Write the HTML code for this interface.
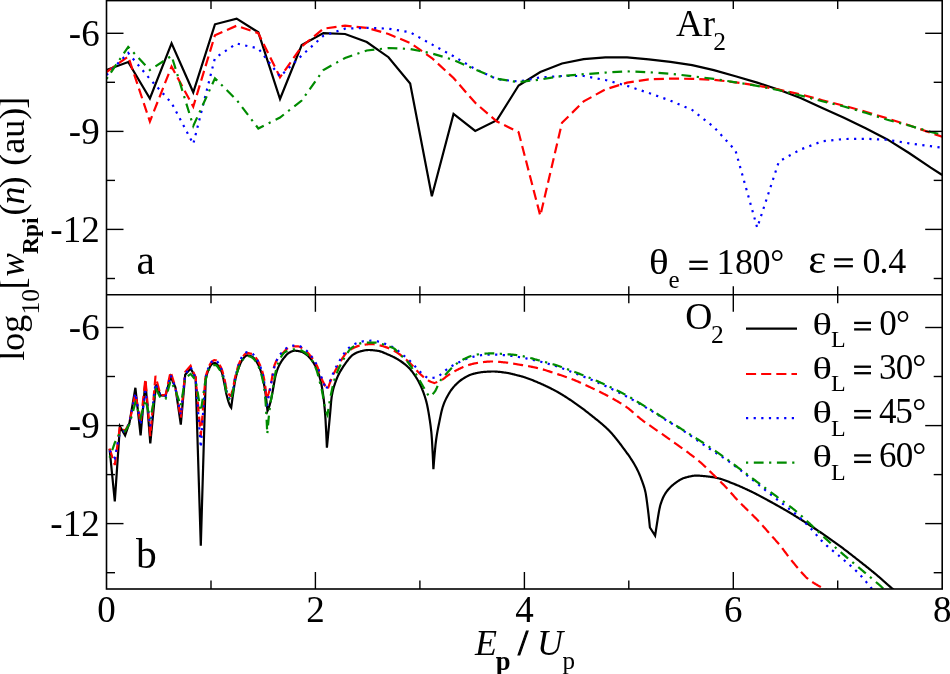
<!DOCTYPE html>
<html><head><meta charset="utf-8"><style>
html,body{margin:0;padding:0;background:#fff;}
svg{display:block;will-change:transform;}
</style></head><body>
<svg width="950" height="674" viewBox="0 0 950 674">
<rect width="950" height="674" fill="#fff"/>
<defs><clipPath id="ca"><rect x="106.5" y="0.6" width="835.7" height="294.2"/></clipPath><clipPath id="cb"><rect x="106.5" y="294.8" width="835.7" height="294.2"/></clipPath></defs><g clip-path="url(#ca)" fill="none" stroke-linejoin="miter"><polyline points="106.50,70.00 128.19,62.00 149.88,98.50 171.57,43.40 193.26,92.30 214.95,24.30 236.64,18.60 258.33,32.30 280.02,99.00 301.71,45.00 323.40,33.10 345.09,34.00 366.78,42.00 388.47,57.20 410.16,83.50 431.85,196.30 453.54,114.00 475.23,130.90 496.92,120.20 518.61,85.50 540.30,72.10 561.99,63.50 583.68,59.20 605.37,57.40 627.06,57.30 648.75,59.30 670.44,61.90 692.13,65.10 713.82,70.10 735.51,76.30 757.20,82.60 778.89,89.70 800.58,98.00 822.27,108.00 843.96,117.80 865.65,128.30 887.34,139.40 909.03,153.00 930.72,167.70 942.20,175.00" stroke="#000" stroke-width="2.2"/><polyline points="106.50,72.00 128.19,56.50 149.88,121.50 171.57,66.50 193.26,106.70 214.95,35.20 236.64,25.70 258.33,33.20 280.02,77.30 301.71,46.50 323.40,28.70 345.09,25.70 366.78,27.80 388.47,34.00 410.16,43.00 431.85,58.00 453.54,78.00 475.23,102.80 496.92,121.50 518.61,132.20 540.30,215.80 561.99,122.80 583.68,101.40 605.37,89.40 627.06,82.60 648.75,79.30 670.44,78.60 692.13,78.80 713.82,79.80 735.51,82.30 757.20,85.60 778.89,89.60 800.58,94.30 822.27,100.20 843.96,105.70 865.65,111.70 887.34,118.40 909.03,125.20 930.72,132.80 942.20,136.80" stroke="#ff0000" stroke-width="2.2" stroke-dasharray="10.1 5.05"/><polyline points="106.50,75.00 128.19,53.00 149.88,79.00 171.57,103.00 193.26,144.00 214.95,58.00 236.64,43.50 258.33,48.50 280.02,76.50 301.71,55.50 323.40,35.80 345.09,28.70 366.78,27.80 388.47,28.70 410.16,32.30 431.85,44.40 453.54,56.30 475.23,69.00 496.92,79.20 518.61,81.50 540.30,77.40 561.99,76.00 583.68,76.00 605.37,80.00 627.06,85.80 648.75,93.00 670.44,100.60 692.13,110.00 713.82,127.00 735.51,150.50 757.20,227.70 778.89,161.50 800.58,149.50 822.27,141.20 843.96,139.00 865.65,138.80 887.34,139.80 909.03,143.30 930.72,146.20 942.20,147.70" stroke="#0000ff" stroke-width="2.2" stroke-dasharray="2.2 5.43"/><polyline points="106.50,79.00 128.19,46.90 149.88,70.00 171.57,55.80 193.26,126.00 214.95,78.30 236.64,100.00 258.33,128.50 280.02,117.50 301.71,100.50 323.40,70.00 345.09,58.00 366.78,50.50 388.47,48.00 410.16,49.00 431.85,53.40 453.54,60.00 475.23,69.40 496.92,78.80 518.61,82.20 540.30,79.50 561.99,76.00 583.68,74.20 605.37,72.60 627.06,71.40 648.75,72.20 670.44,73.80 692.13,76.20 713.82,78.90 735.51,82.30 757.20,85.80 778.89,90.20 800.58,95.50 822.27,101.20 843.96,106.50 865.65,112.80 887.34,119.80 909.03,125.50 930.72,132.00 942.20,134.70" stroke="#008b00" stroke-width="2.2" stroke-dasharray="2.2 5.6 9.8 5.5"/></g><g clip-path="url(#cb)" fill="none" stroke-linejoin="miter"><polyline points="109.60,449.00 114.80,501.40 119.90,426.40 125.10,435.30 129.50,422.70 135.40,387.80 140.60,435.30 145.40,381.50 150.30,443.50 156.00,384.50 160.50,395.50 165.60,395.60 170.60,376.50 175.40,387.20 180.80,424.60 185.20,374.70 190.60,368.50 195.60,377.40 200.80,545.70 205.70,379.20 206.41,376.17 206.90,374.40 207.12,373.72 207.82,371.71 208.53,369.96 209.20,368.50 209.24,368.41 209.95,366.89 210.66,365.50 211.37,364.50 211.60,364.30 212.07,363.99 212.78,363.60 213.49,363.30 214.20,363.13 214.60,363.10 214.91,363.12 215.62,363.33 216.32,363.66 216.40,363.70 217.03,364.24 217.74,365.21 218.45,366.32 218.70,366.70 219.16,367.37 219.87,368.43 220.57,369.61 221.28,371.02 221.70,372.00 221.99,372.82 222.70,375.44 223.41,378.68 224.12,382.21 224.70,385.10 224.82,385.72 225.53,389.69 226.24,393.50 226.50,394.60 226.95,396.31 227.66,398.90 228.37,401.31 229.07,403.47 229.78,405.31 230.49,406.74 231.20,407.70 231.91,402.35 232.62,397.21 233.00,394.60 233.34,392.27 234.05,387.25 234.76,382.61 235.40,379.20 235.47,378.88 236.18,375.90 236.89,373.28 237.61,370.96 238.32,368.88 238.90,367.30 239.03,366.96 239.74,365.13 240.45,363.41 241.16,361.85 241.88,360.53 242.50,359.60 242.59,359.49 243.30,358.57 244.01,357.68 244.72,356.88 245.44,356.20 246.15,355.70 246.86,355.43 247.20,355.40 247.57,355.41 248.28,355.48 248.99,355.60 249.71,355.78 250.42,356.00 251.13,356.26 251.84,356.54 252.00,356.60 252.55,356.90 253.26,357.46 253.98,358.19 254.69,359.07 255.40,360.05 256.11,361.10 256.70,362.00 256.82,362.19 257.54,363.39 258.25,364.75 258.96,366.28 259.67,367.99 260.38,369.87 261.09,371.94 261.50,373.20 261.81,374.22 262.52,376.95 263.23,380.14 263.94,383.76 264.65,387.79 265.00,389.90 265.36,392.31 266.08,397.80 266.79,404.11 267.50,411.00 268.21,409.45 268.91,407.49 269.62,405.17 270.33,402.58 271.04,399.77 271.20,399.10 271.74,396.55 272.45,392.61 273.16,388.46 273.60,386.00 273.86,384.57 274.57,380.60 275.28,376.85 275.90,374.20 275.99,373.90 276.69,371.56 277.40,369.51 278.11,367.70 278.81,366.10 279.50,364.70 279.52,364.66 280.23,363.34 280.94,362.14 281.64,361.02 282.35,359.99 283.06,359.03 283.76,358.13 284.20,357.60 284.47,357.27 285.18,356.42 285.89,355.59 286.59,354.81 287.30,354.09 288.01,353.47 288.71,352.96 289.00,352.80 289.42,352.58 290.13,352.20 290.84,351.85 291.54,351.53 292.25,351.24 292.96,351.00 293.66,350.83 294.37,350.72 294.90,350.70 295.08,350.70 295.79,350.73 296.49,350.78 297.20,350.87 297.91,350.97 298.61,351.10 299.32,351.24 300.03,351.40 300.74,351.56 300.90,351.60 301.44,351.75 302.15,352.02 302.86,352.34 303.56,352.72 304.27,353.14 304.98,353.59 305.60,354.00 305.69,354.06 306.39,354.57 307.10,355.14 307.81,355.78 308.51,356.46 309.22,357.20 309.93,357.99 310.64,358.82 311.34,359.70 311.50,359.90 312.05,360.62 312.76,361.62 313.46,362.69 314.17,363.84 314.88,365.08 315.59,366.42 316.29,367.87 317.00,369.43 317.50,370.60 317.71,371.11 318.41,373.04 319.12,375.25 319.83,377.74 320.54,380.52 321.00,382.50 321.24,383.60 321.95,387.22 322.66,391.48 323.36,396.43 323.40,396.70 324.07,402.34 324.78,409.73 325.20,415.00 325.49,419.15 326.19,432.02 326.90,447.70 327.60,440.38 328.30,433.02 329.00,425.61 329.70,418.17 330.00,415.00 330.40,410.34 331.10,401.96 331.70,396.70 331.80,396.07 332.51,392.33 333.21,389.29 333.91,386.76 334.61,384.55 335.30,382.50 335.31,382.48 336.01,380.51 336.71,378.73 337.41,377.10 338.11,375.59 338.80,374.20 338.81,374.18 339.51,372.84 340.21,371.56 340.91,370.34 341.61,369.17 342.31,368.05 343.02,366.97 343.72,365.93 344.42,364.92 345.00,364.10 345.12,363.94 345.82,362.96 346.52,361.97 347.22,361.00 347.92,360.04 348.62,359.12 349.32,358.24 350.02,357.42 350.72,356.66 351.42,355.99 352.12,355.40 352.40,355.20 352.82,354.90 353.52,354.44 354.23,353.99 354.93,353.57 355.63,353.18 356.33,352.82 357.03,352.49 357.73,352.19 358.43,351.92 359.13,351.69 359.80,351.50 359.83,351.49 360.53,351.31 361.23,351.14 361.93,350.97 362.63,350.80 363.33,350.65 364.03,350.51 364.74,350.38 365.44,350.26 366.14,350.17 366.84,350.09 367.54,350.04 368.24,350.01 368.70,350.00 368.94,350.00 369.64,350.01 370.34,350.04 371.04,350.07 371.74,350.12 372.44,350.18 373.14,350.24 373.84,350.32 374.54,350.40 375.25,350.48 375.95,350.57 376.65,350.67 377.35,350.76 377.60,350.80 378.05,350.87 378.75,351.01 379.45,351.17 380.15,351.37 380.85,351.59 381.55,351.82 382.25,352.08 382.95,352.35 383.65,352.64 384.35,352.93 385.05,353.23 385.76,353.54 386.46,353.84 387.16,354.14 387.86,354.44 388.00,354.50 388.56,354.73 389.26,355.03 389.96,355.34 390.66,355.65 391.36,355.97 392.06,356.30 392.76,356.63 393.46,356.98 394.16,357.33 394.86,357.70 395.56,358.07 396.27,358.46 396.97,358.85 397.67,359.26 398.37,359.68 398.40,359.70 399.07,360.11 399.77,360.56 400.47,361.02 401.17,361.49 401.87,361.98 402.57,362.48 403.27,363.00 403.97,363.54 404.67,364.10 405.37,364.68 406.07,365.27 406.77,365.89 407.48,366.53 408.18,367.19 408.80,367.80 408.88,367.88 409.58,368.60 410.28,369.37 410.98,370.19 411.68,371.04 412.38,371.94 413.08,372.88 413.78,373.86 414.48,374.87 415.18,375.92 415.88,377.00 416.20,377.50 416.58,378.12 417.28,379.28 417.99,380.51 418.69,381.79 419.39,383.14 420.09,384.56 420.79,386.05 421.49,387.62 422.19,389.27 422.20,389.30 422.89,391.01 423.59,392.85 424.29,394.82 424.99,396.97 425.69,399.31 426.39,401.89 426.60,402.70 427.09,404.81 427.79,408.25 428.50,412.14 429.20,416.41 429.60,419.00 429.90,420.93 430.60,425.78 431.30,431.87 431.50,434.00 432.00,440.69 432.70,453.47 433.40,469.10 434.10,460.16 434.80,452.04 435.50,444.98 436.10,440.00 436.20,439.25 436.90,434.59 437.60,430.60 438.30,427.01 439.01,423.57 439.10,423.10 439.71,420.08 440.41,416.64 441.11,413.35 441.81,410.35 442.51,407.74 442.80,406.80 443.21,405.58 443.91,403.67 444.61,401.93 445.31,400.34 446.01,398.87 446.71,397.50 447.30,396.40 447.41,396.19 448.11,394.94 448.81,393.74 449.51,392.59 450.22,391.50 450.92,390.47 451.62,389.49 452.32,388.57 453.02,387.71 453.20,387.50 453.72,386.90 454.42,386.12 455.12,385.36 455.82,384.62 456.52,383.92 457.22,383.24 457.92,382.58 458.62,381.96 459.32,381.36 460.02,380.80 460.73,380.26 461.43,379.76 462.10,379.30 462.13,379.28 462.83,378.83 463.53,378.39 464.23,377.95 464.93,377.53 465.63,377.12 466.33,376.73 467.03,376.35 467.73,375.99 468.43,375.64 469.13,375.32 469.83,375.02 470.53,374.74 471.23,374.49 471.94,374.26 472.50,374.10 472.64,374.06 473.34,373.87 474.04,373.69 474.74,373.51 475.44,373.34 476.14,373.18 476.84,373.02 477.54,372.87 478.24,372.73 478.94,372.60 479.64,372.47 480.34,372.36 481.04,372.25 481.74,372.16 482.45,372.07 483.15,372.00 483.85,371.93 484.30,371.90 484.55,371.88 485.25,371.83 485.95,371.79 486.65,371.74 487.35,371.70 488.05,371.66 488.75,371.62 489.45,371.59 490.15,371.56 490.85,371.54 491.55,371.52 492.25,371.51 492.96,371.50 493.20,371.50 493.66,371.50 494.36,371.52 495.06,371.54 495.76,371.57 496.46,371.62 497.16,371.67 497.86,371.73 498.56,371.80 499.26,371.87 499.96,371.95 500.66,372.03 501.36,372.11 502.06,372.20 502.76,372.29 503.46,372.39 504.17,372.48 504.87,372.57 505.10,372.60 505.57,372.66 506.27,372.77 506.97,372.88 507.67,373.01 508.37,373.14 509.07,373.29 509.77,373.44 510.47,373.59 511.17,373.76 511.87,373.92 512.57,374.09 513.27,374.27 513.97,374.44 514.68,374.62 515.38,374.80 516.08,374.97 516.78,375.15 517.00,375.20 517.48,375.32 518.18,375.49 518.88,375.67 519.58,375.85 520.28,376.03 520.98,376.22 521.68,376.41 522.38,376.61 523.08,376.81 523.78,377.02 524.48,377.24 525.00,377.40 525.18,377.46 525.89,377.69 526.59,377.93 527.29,378.17 527.99,378.42 528.69,378.68 529.39,378.94 530.09,379.21 530.79,379.48 531.49,379.76 532.19,380.04 532.89,380.33 533.59,380.62 534.29,380.91 534.99,381.21 535.69,381.50 536.40,381.80 537.10,382.10 537.80,382.40 537.80,382.40 538.50,382.70 539.20,383.00 539.90,383.31 540.60,383.61 541.30,383.92 542.00,384.23 542.70,384.55 543.40,384.87 544.10,385.19 544.80,385.51 545.50,385.83 546.20,386.16 546.90,386.49 547.61,386.83 548.31,387.17 549.01,387.51 549.71,387.85 550.41,388.20 551.11,388.55 551.81,388.91 552.51,389.27 553.21,389.63 553.91,390.00 554.61,390.37 555.31,390.74 555.60,390.90 556.01,391.12 556.71,391.51 557.41,391.90 558.12,392.30 558.82,392.70 559.52,393.11 560.22,393.52 560.92,393.94 561.62,394.36 562.32,394.79 563.02,395.22 563.72,395.65 564.42,396.09 565.12,396.53 565.82,396.98 566.52,397.43 567.22,397.88 567.92,398.34 568.62,398.80 569.33,399.26 570.03,399.73 570.73,400.20 571.43,400.67 572.13,401.14 572.83,401.61 573.40,402.00 573.53,402.09 574.23,402.57 574.93,403.05 575.63,403.54 576.33,404.03 577.03,404.53 577.73,405.03 578.43,405.54 579.13,406.04 579.84,406.56 580.54,407.07 581.24,407.59 581.94,408.12 582.64,408.64 583.34,409.17 584.04,409.71 584.74,410.24 585.44,410.78 586.14,411.32 586.84,411.87 587.54,412.41 588.24,412.96 588.94,413.51 589.64,414.06 590.34,414.62 591.05,415.18 591.20,415.30 591.75,415.73 592.45,416.29 593.15,416.85 593.85,417.40 594.55,417.96 595.25,418.52 595.95,419.07 596.65,419.63 597.35,420.20 598.05,420.76 598.75,421.33 599.45,421.91 600.15,422.49 600.85,423.07 601.56,423.67 602.26,424.27 602.96,424.87 603.66,425.49 604.36,426.11 605.06,426.74 605.76,427.38 606.46,428.04 607.16,428.70 607.86,429.38 608.56,430.06 609.00,430.50 609.26,430.76 609.96,431.49 610.66,432.24 611.36,433.01 612.07,433.80 612.77,434.61 613.47,435.44 614.17,436.28 614.87,437.13 615.57,437.98 616.27,438.85 616.97,439.71 617.20,440.00 617.67,440.59 618.37,441.48 619.07,442.39 619.77,443.31 620.47,444.24 621.17,445.19 621.87,446.14 622.57,447.09 623.28,448.05 623.90,448.90 623.98,449.00 624.68,449.96 625.38,450.90 626.08,451.85 626.78,452.80 627.48,453.76 628.18,454.73 628.88,455.71 629.58,456.72 630.28,457.75 630.98,458.81 631.30,459.30 631.68,459.90 632.38,461.01 633.08,462.13 633.79,463.29 634.49,464.47 635.19,465.70 635.89,466.97 636.59,468.30 637.29,469.68 637.30,469.70 637.99,471.13 638.69,472.65 639.39,474.25 640.09,475.93 640.79,477.69 641.49,479.54 641.70,480.10 642.19,481.43 642.89,483.32 643.59,485.32 644.29,487.57 645.00,490.18 645.40,491.90 645.70,493.36 646.40,497.73 647.10,502.91 647.60,506.80 647.80,508.35 648.50,514.22 649.20,520.62 649.90,527.50 655.10,535.70 658.00,517.20 658.70,513.00 659.40,509.15 660.10,506.00 660.30,505.30 660.81,503.65 661.51,501.57 662.21,499.71 662.91,498.03 663.61,496.54 664.31,495.20 665.01,494.01 665.40,493.40 665.72,492.92 666.42,491.91 667.12,490.96 667.82,490.06 668.52,489.22 669.22,488.42 669.92,487.67 670.63,486.96 671.33,486.29 672.03,485.65 672.73,485.05 673.43,484.48 674.13,483.93 674.30,483.80 674.83,483.40 675.54,482.88 676.24,482.36 676.94,481.86 677.64,481.38 678.34,480.91 679.04,480.46 679.74,480.04 680.45,479.63 681.15,479.25 681.85,478.90 682.55,478.58 683.25,478.29 683.95,478.03 684.66,477.81 684.70,477.80 685.36,477.61 686.06,477.42 686.76,477.23 687.46,477.04 688.16,476.86 688.86,476.68 689.57,476.52 690.27,476.36 690.97,476.21 691.67,476.08 692.37,475.96 693.07,475.86 693.77,475.77 694.48,475.70 695.18,475.64 695.88,475.61 696.58,475.60 696.60,475.60 697.28,475.61 697.98,475.62 698.68,475.65 699.39,475.69 700.09,475.73 700.79,475.78 701.49,475.84 702.19,475.90 702.89,475.97 703.59,476.04 704.30,476.11 705.00,476.19 705.70,476.26 706.40,476.34 707.00,476.40 707.10,476.41 707.80,476.49 708.50,476.57 709.21,476.65 709.91,476.74 710.61,476.84 711.31,476.94 712.01,477.05 712.71,477.16 713.41,477.28 714.12,477.40 714.82,477.53 715.52,477.66 716.22,477.80 716.70,477.90 716.92,477.95 717.62,478.10 718.32,478.27 719.03,478.45 719.73,478.64 720.43,478.84 721.13,479.05 721.83,479.27 722.53,479.50 723.23,479.74 723.94,479.98 724.64,480.23 725.34,480.49 726.04,480.75 726.74,481.02 727.44,481.29 728.14,481.56 728.85,481.84 729.55,482.12 730.25,482.40 730.95,482.68 731.65,482.97 732.35,483.25 733.06,483.53 733.76,483.81 734.46,484.08 734.50,484.10 735.16,484.36 735.86,484.64 736.56,484.93 737.26,485.22 737.97,485.51 738.67,485.81 739.37,486.11 740.07,486.41 740.77,486.72 741.47,487.03 742.17,487.34 742.88,487.65 743.58,487.97 744.28,488.29 744.98,488.62 745.68,488.94 746.38,489.27 747.08,489.60 747.79,489.93 748.49,490.26 749.19,490.60 749.89,490.94 750.59,491.27 751.29,491.61 751.99,491.95 752.30,492.10 752.70,492.29 753.40,492.64 754.10,492.98 754.80,493.34 755.50,493.69 756.20,494.05 756.90,494.41 757.61,494.77 758.31,495.14 759.01,495.50 759.71,495.87 760.41,496.24 761.11,496.62 761.81,496.99 762.52,497.37 763.22,497.75 763.92,498.13 764.62,498.51 765.32,498.89 766.02,499.27 766.72,499.65 767.43,500.04 768.13,500.42 768.83,500.80 769.53,501.19 770.10,501.50 770.23,501.57 770.93,501.96 771.63,502.34 772.34,502.73 773.04,503.11 773.74,503.50 774.44,503.89 775.14,504.28 775.84,504.67 776.54,505.06 777.25,505.45 777.95,505.84 778.65,506.24 779.35,506.63 780.05,507.03 780.75,507.43 781.46,507.83 782.16,508.23 782.86,508.63 783.56,509.03 784.26,509.43 784.96,509.84 785.66,510.25 786.37,510.66 787.07,511.07 787.77,511.48 788.47,511.89 789.17,512.31 789.87,512.72 790.00,512.80 790.57,513.14 791.28,513.56 791.98,513.99 792.68,514.41 793.38,514.84 794.08,515.27 794.78,515.70 795.48,516.13 796.19,516.57 796.89,517.01 797.59,517.44 798.29,517.88 798.99,518.32 799.69,518.77 800.39,519.21 801.10,519.65 801.80,520.10 802.50,520.55 803.20,521.00 803.90,521.44 804.60,521.89 805.30,522.34 806.01,522.80 806.71,523.25 807.10,523.50 807.41,523.70 808.11,524.15 808.81,524.61 809.51,525.06 810.21,525.52 810.92,525.97 811.62,526.43 812.32,526.89 813.02,527.35 813.72,527.82 814.42,528.28 815.12,528.74 815.83,529.21 816.53,529.67 817.23,530.14 817.93,530.61 818.63,531.08 819.33,531.55 820.03,532.03 820.74,532.50 821.44,532.98 822.14,533.46 822.84,533.94 823.54,534.42 824.10,534.80 824.24,534.90 824.94,535.38 825.65,535.87 826.35,536.35 827.05,536.84 827.75,537.33 828.45,537.82 829.15,538.31 829.86,538.81 830.56,539.30 831.26,539.80 831.96,540.29 832.66,540.79 833.36,541.29 834.06,541.80 834.77,542.30 835.47,542.81 836.17,543.31 836.87,543.82 837.57,544.33 838.27,544.84 838.97,545.36 839.68,545.87 840.38,546.39 841.08,546.91 841.20,547.00 841.78,547.43 842.48,547.95 843.18,548.48 843.88,549.01 844.59,549.54 845.29,550.07 845.99,550.61 846.69,551.14 847.39,551.68 848.09,552.22 848.79,552.76 849.50,553.31 850.20,553.85 850.90,554.40 851.60,554.94 852.30,555.49 853.00,556.04 853.70,556.59 854.41,557.14 855.11,557.69 855.81,558.24 856.51,558.79 857.21,559.34 857.91,559.90 858.30,560.20 858.61,560.45 859.32,561.00 860.02,561.55 860.72,562.10 861.42,562.65 862.12,563.21 862.82,563.76 863.52,564.31 864.23,564.87 864.93,565.42 865.63,565.98 866.33,566.53 867.03,567.09 867.73,567.65 868.43,568.21 869.14,568.78 869.84,569.34 870.54,569.91 871.24,570.48 871.94,571.05 872.64,571.62 873.34,572.20 874.05,572.78 874.75,573.36 875.40,573.90 875.45,573.94 876.15,574.53 876.85,575.12 877.55,575.72 878.26,576.32 878.96,576.93 879.66,577.54 880.36,578.15 881.06,578.77 881.76,579.38 882.46,580.00 883.17,580.62 883.87,581.24 884.57,581.87 885.27,582.49 885.97,583.11 886.67,583.73 887.37,584.35 888.08,584.96 888.78,585.58 889.48,586.19 890.18,586.80 890.88,587.40 891.58,588.00 892.28,588.60 892.40,588.70 892.99,589.19 893.69,589.78 894.39,590.37 895.09,590.96 895.79,591.54 896.49,592.12 897.19,592.70 897.90,593.28 898.60,593.85 899.30,594.43 900.00,595.00" stroke="#000" stroke-width="2.2"/><polyline points="109.60,448.50 114.80,465.00 119.90,426.40 125.10,431.00 129.50,422.70 135.40,393.00 140.60,423.50 145.40,378.50 150.30,436.10 155.50,375.90 160.50,395.00 165.60,395.00 170.60,371.70 175.40,387.00 180.80,418.00 185.20,372.00 190.60,365.80 195.60,377.00 200.80,436.20 205.40,378.00 206.11,375.23 206.81,372.70 207.52,370.40 208.22,368.36 208.93,366.60 209.20,366.00 209.63,365.09 210.34,363.74 211.04,362.63 211.60,362.00 211.75,361.87 212.46,361.25 213.16,360.72 213.87,360.35 214.57,360.20 214.60,360.20 215.28,360.25 215.98,360.39 216.40,360.50 216.69,360.65 217.39,361.42 218.10,362.53 218.70,363.50 218.81,363.66 219.51,364.75 220.22,365.93 220.92,367.27 221.63,368.83 221.70,369.00 222.33,370.78 223.04,373.20 223.74,375.97 224.45,378.93 224.70,380.00 225.16,382.30 225.86,386.33 226.50,389.00 226.57,389.18 227.27,390.97 227.98,392.59 228.68,393.98 229.39,395.05 230.09,395.75 230.80,396.00 231.51,393.70 232.23,391.11 232.94,388.24 233.00,388.00 233.66,384.88 234.37,381.05 235.08,377.40 235.40,376.00 235.80,374.38 236.51,371.60 237.23,369.02 237.94,366.68 238.65,364.63 238.90,364.00 239.37,362.86 240.08,361.22 240.80,359.72 241.51,358.42 242.22,357.35 242.50,357.00 242.94,356.48 243.65,355.63 244.37,354.84 245.08,354.14 245.79,353.59 246.51,353.23 247.20,353.10 247.22,353.10 247.94,353.13 248.65,353.20 249.36,353.31 250.08,353.46 250.79,353.64 251.51,353.85 252.00,354.00 252.22,354.08 252.93,354.50 253.65,355.11 254.36,355.88 255.08,356.76 255.79,357.72 256.50,358.72 256.70,359.00 257.22,359.76 257.93,360.92 258.65,362.23 259.36,363.68 260.07,365.28 260.79,367.06 261.50,369.00 261.50,369.01 262.22,371.18 262.93,373.69 263.64,376.66 264.36,380.21 265.00,384.00 265.07,384.48 265.79,390.99 266.50,399.30 267.20,397.56 267.90,395.57 268.61,393.36 269.31,390.95 270.00,388.40 270.01,388.36 270.71,385.21 271.42,381.39 272.12,377.24 272.82,373.10 273.52,369.31 274.23,366.22 274.70,364.70 274.93,364.12 275.63,362.48 276.33,361.07 277.03,359.84 277.74,358.75 278.44,357.75 279.00,357.00 279.14,356.82 279.84,355.96 280.55,355.18 281.25,354.46 281.95,353.78 282.65,353.12 283.00,352.80 283.36,352.46 284.06,351.76 284.76,351.03 285.46,350.29 286.16,349.58 286.87,348.90 287.57,348.28 288.27,347.75 288.97,347.32 289.68,347.03 290.20,346.90 290.38,346.87 291.08,346.77 291.78,346.68 292.49,346.59 293.19,346.52 293.89,346.45 294.59,346.40 295.29,346.35 296.00,346.32 296.70,346.31 297.30,346.30 297.40,346.30 298.10,346.37 298.81,346.54 299.51,346.79 300.21,347.11 300.91,347.49 301.61,347.92 302.32,348.38 303.02,348.86 303.72,349.34 304.40,349.80 304.42,349.82 305.13,350.32 305.83,350.90 306.53,351.53 307.23,352.22 307.94,352.95 308.64,353.73 309.34,354.53 310.04,355.37 310.40,355.80 310.74,356.22 311.45,357.10 312.15,358.01 312.85,358.95 313.55,359.95 314.26,361.02 314.96,362.15 315.66,363.36 316.36,364.67 317.07,366.08 317.50,367.00 317.77,367.64 318.47,369.71 319.17,372.01 319.87,374.13 319.90,374.20 320.58,375.98 321.28,377.75 321.98,379.43 322.68,381.01 323.39,382.47 323.40,382.50 324.09,383.84 324.79,385.15 325.49,386.39 326.20,387.55 326.90,388.62 327.60,389.60 328.30,387.45 329.00,385.38 329.71,383.41 330.41,381.54 330.50,381.30 331.11,379.76 331.81,378.06 332.51,376.43 333.22,374.87 333.92,373.38 334.10,373.00 334.62,371.95 335.32,370.57 336.02,369.23 336.73,367.93 337.43,366.67 338.13,365.44 338.83,364.24 339.53,363.07 340.00,362.30 340.24,361.91 340.94,360.75 341.64,359.59 342.34,358.44 343.04,357.32 343.75,356.25 344.45,355.26 345.15,354.35 345.85,353.55 346.00,353.40 346.55,352.85 347.26,352.19 347.96,351.57 348.66,350.98 349.36,350.44 350.06,349.93 350.77,349.45 351.47,349.02 352.17,348.62 352.40,348.50 352.87,348.26 353.57,347.90 354.28,347.56 354.98,347.23 355.68,346.93 356.38,346.64 357.08,346.37 357.78,346.13 358.49,345.92 359.19,345.73 359.80,345.60 359.89,345.58 360.59,345.44 361.29,345.31 362.00,345.18 362.70,345.05 363.40,344.92 364.10,344.81 364.80,344.69 365.51,344.59 366.21,344.49 366.91,344.40 367.61,344.33 368.31,344.26 369.02,344.20 369.72,344.16 370.42,344.12 371.12,344.10 371.70,344.10 371.82,344.10 372.53,344.12 373.23,344.17 373.93,344.24 374.63,344.34 375.33,344.45 376.04,344.58 376.74,344.72 377.44,344.88 378.14,345.03 378.84,345.20 379.55,345.36 380.25,345.52 380.60,345.60 380.95,345.68 381.65,345.85 382.35,346.03 383.06,346.22 383.76,346.43 384.46,346.65 385.16,346.87 385.86,347.11 386.57,347.36 387.27,347.62 387.97,347.89 388.67,348.16 389.37,348.45 389.50,348.50 390.08,348.74 390.78,349.06 391.48,349.40 392.18,349.75 392.88,350.12 393.59,350.50 394.29,350.90 394.99,351.31 395.69,351.74 396.39,352.18 397.10,352.62 397.80,353.08 398.50,353.55 399.20,354.02 399.90,354.50 399.90,354.50 400.61,355.00 401.31,355.51 402.01,356.05 402.71,356.60 403.41,357.17 404.12,357.76 404.82,358.36 405.52,358.97 406.22,359.59 406.92,360.23 407.62,360.88 408.33,361.53 409.03,362.19 409.73,362.86 410.30,363.40 410.43,363.53 411.13,364.23 411.84,364.96 412.54,365.72 413.24,366.50 413.94,367.30 414.64,368.10 415.35,368.90 416.05,369.70 416.75,370.48 417.45,371.24 418.15,371.97 418.86,372.67 419.20,373.00 419.56,373.34 420.26,374.00 420.96,374.67 421.66,375.33 422.37,375.98 423.07,376.62 423.77,377.24 424.47,377.84 425.17,378.41 425.88,378.95 426.58,379.46 427.28,379.92 427.98,380.33 428.10,380.40 428.68,380.71 429.39,381.08 430.09,381.42 430.79,381.75 431.49,382.05 432.19,382.33 432.90,382.58 433.60,382.81 434.30,383.00 435.00,382.80 435.70,382.57 436.40,382.32 437.10,382.05 437.80,381.76 438.50,381.46 439.20,381.14 439.90,380.80 440.60,380.46 441.30,380.10 441.31,380.10 442.01,379.71 442.71,379.27 443.41,378.79 444.11,378.28 444.81,377.76 445.51,377.22 446.21,376.68 446.91,376.15 447.61,375.64 448.31,375.16 448.70,374.90 449.01,374.70 449.71,374.26 450.41,373.81 451.11,373.38 451.81,372.95 452.51,372.52 453.21,372.11 453.91,371.70 454.62,371.29 455.32,370.90 456.02,370.52 456.72,370.15 457.42,369.79 457.60,369.70 458.12,369.44 458.82,369.09 459.52,368.75 460.22,368.41 460.92,368.07 461.62,367.75 462.32,367.42 463.02,367.11 463.72,366.80 464.42,366.51 465.12,366.23 465.82,365.95 466.52,365.70 467.22,365.45 467.93,365.22 468.00,365.20 468.63,365.01 469.33,364.79 470.03,364.58 470.73,364.38 471.43,364.19 472.13,364.00 472.83,363.82 473.53,363.65 474.23,363.49 474.93,363.35 475.63,363.21 476.33,363.09 476.90,363.00 477.03,362.98 477.73,362.88 478.43,362.77 479.13,362.67 479.83,362.57 480.53,362.47 481.24,362.37 481.94,362.27 482.64,362.18 483.34,362.09 484.04,362.01 484.74,361.93 485.44,361.86 486.14,361.79 486.84,361.72 487.54,361.67 488.24,361.62 488.94,361.58 489.64,361.55 490.34,361.52 491.04,361.51 491.74,361.50 491.80,361.50 492.44,361.50 493.14,361.51 493.84,361.53 494.55,361.56 495.25,361.59 495.95,361.62 496.65,361.67 497.35,361.71 498.05,361.77 498.75,361.82 499.45,361.88 500.15,361.94 500.85,362.01 501.55,362.08 502.25,362.15 502.95,362.22 503.65,362.29 504.35,362.37 505.05,362.44 505.75,362.51 506.45,362.58 506.60,362.60 507.15,362.66 507.86,362.74 508.56,362.83 509.26,362.93 509.96,363.03 510.66,363.14 511.36,363.25 512.06,363.37 512.76,363.48 513.46,363.61 514.16,363.73 514.86,363.86 515.56,363.98 516.26,364.11 516.96,364.23 517.66,364.35 518.36,364.48 518.50,364.50 519.06,364.60 519.76,364.72 520.46,364.83 521.17,364.95 521.87,365.07 522.57,365.19 523.27,365.31 523.97,365.43 524.67,365.55 525.37,365.67 526.07,365.79 526.77,365.91 527.47,366.03 528.17,366.16 528.87,366.28 529.57,366.41 530.27,366.54 530.97,366.67 531.67,366.81 532.37,366.94 533.07,367.08 533.77,367.22 534.48,367.37 535.18,367.52 535.88,367.67 536.58,367.82 537.28,367.98 537.80,368.10 537.98,368.14 538.68,368.31 539.38,368.48 540.08,368.66 540.78,368.85 541.48,369.04 542.18,369.23 542.88,369.43 543.58,369.64 544.28,369.85 544.98,370.06 545.68,370.28 546.38,370.49 547.08,370.72 547.78,370.94 548.49,371.17 549.19,371.39 549.89,371.62 550.59,371.85 551.29,372.08 551.99,372.31 552.69,372.55 553.39,372.78 554.09,373.01 554.79,373.24 555.49,373.46 555.60,373.50 556.19,373.69 556.89,373.92 557.59,374.15 558.29,374.38 558.99,374.61 559.69,374.84 560.39,375.07 561.09,375.30 561.80,375.53 562.50,375.77 563.20,376.00 563.90,376.24 564.60,376.48 565.30,376.72 566.00,376.97 566.70,377.21 567.40,377.46 568.10,377.71 568.80,377.97 569.50,378.22 570.20,378.48 570.90,378.74 571.60,379.01 572.30,379.27 573.00,379.55 573.40,379.70 573.70,379.82 574.40,380.10 575.11,380.38 575.81,380.67 576.51,380.96 577.21,381.26 577.91,381.56 578.61,381.87 579.31,382.17 580.01,382.48 580.71,382.80 581.41,383.11 582.11,383.43 582.81,383.75 583.51,384.08 584.21,384.40 584.91,384.73 585.61,385.06 586.31,385.39 587.01,385.72 587.71,386.05 588.42,386.38 589.12,386.71 589.82,387.04 590.52,387.38 591.20,387.70 591.22,387.71 591.92,388.04 592.62,388.37 593.32,388.71 594.02,389.04 594.72,389.37 595.42,389.71 596.12,390.05 596.82,390.38 597.52,390.72 598.22,391.07 598.92,391.41 599.62,391.75 600.32,392.10 601.02,392.45 601.73,392.80 602.43,393.15 603.13,393.51 603.83,393.87 604.53,394.23 605.23,394.59 605.93,394.96 606.63,395.33 607.33,395.70 608.03,396.07 608.73,396.45 609.00,396.60 609.43,396.84 610.13,397.22 610.83,397.60 611.53,397.99 612.23,398.38 612.93,398.76 613.63,399.16 614.33,399.55 615.04,399.95 615.74,400.35 616.44,400.75 617.14,401.16 617.84,401.57 618.54,401.98 619.24,402.40 619.94,402.82 620.64,403.25 621.34,403.69 622.04,404.13 622.74,404.58 623.44,405.03 624.14,405.49 624.84,405.96 625.54,406.43 626.24,406.91 626.80,407.30 626.94,407.40 627.64,407.91 628.35,408.43 629.05,408.98 629.75,409.54 630.45,410.11 631.15,410.70 631.85,411.30 632.55,411.90 633.25,412.52 633.95,413.13 634.65,413.76 635.35,414.38 636.05,415.00 636.75,415.62 637.45,416.23 638.15,416.84 638.85,417.44 639.55,418.02 640.25,418.60 640.95,419.17 641.66,419.71 641.90,419.90 642.36,420.24 643.06,420.77 643.76,421.28 644.46,421.79 645.16,422.29 645.86,422.79 646.56,423.28 647.26,423.77 647.96,424.25 648.66,424.73 649.36,425.21 650.06,425.69 650.76,426.17 651.46,426.65 652.16,427.13 652.86,427.62 653.56,428.10 653.70,428.20 654.26,428.60 654.97,429.08 655.67,429.57 656.37,430.06 657.07,430.55 657.77,431.04 658.47,431.53 659.17,432.01 659.87,432.50 660.57,432.99 661.27,433.48 661.97,433.96 662.67,434.45 663.37,434.94 664.07,435.43 664.77,435.92 665.47,436.41 665.60,436.50 666.17,436.90 666.87,437.39 667.57,437.88 668.28,438.38 668.98,438.87 669.68,439.36 670.38,439.85 671.08,440.34 671.78,440.84 672.48,441.33 673.18,441.83 673.88,442.32 674.58,442.82 675.28,443.32 675.98,443.81 676.68,444.31 677.38,444.82 677.50,444.90 678.08,445.32 678.78,445.82 679.48,446.32 680.18,446.82 680.88,447.32 681.59,447.83 682.29,448.33 682.99,448.84 683.69,449.34 684.39,449.85 685.09,450.36 685.79,450.88 686.49,451.39 687.19,451.91 687.89,452.44 688.59,452.96 689.29,453.49 689.30,453.50 689.99,454.03 690.69,454.56 691.39,455.09 692.09,455.63 692.79,456.17 693.49,456.71 694.19,457.26 694.90,457.81 695.60,458.36 696.30,458.92 697.00,459.49 697.70,460.06 698.40,460.64 699.10,461.23 699.80,461.83 700.00,462.00 700.50,462.43 701.20,463.05 701.90,463.67 702.60,464.31 703.30,464.95 704.00,465.60 704.70,466.25 705.40,466.91 706.10,467.58 706.80,468.25 707.50,468.93 708.21,469.61 708.91,470.30 709.61,470.99 710.31,471.68 711.01,472.37 711.71,473.06 712.41,473.76 713.11,474.45 713.81,475.15 714.51,475.84 715.21,476.53 715.91,477.22 716.61,477.91 716.70,478.00 717.31,478.60 718.01,479.28 718.71,479.97 719.41,480.65 720.11,481.34 720.81,482.03 721.52,482.72 722.22,483.42 722.92,484.12 723.62,484.82 724.32,485.53 725.02,486.25 725.72,486.97 726.42,487.70 726.70,488.00 727.12,488.45 727.82,489.20 728.52,489.98 729.22,490.76 729.92,491.55 730.62,492.35 731.32,493.16 732.02,493.97 732.72,494.78 733.42,495.58 734.12,496.38 734.83,497.18 735.53,497.96 736.23,498.74 736.93,499.50 737.40,500.00 737.63,500.24 738.33,500.97 739.03,501.70 739.73,502.41 740.43,503.12 741.13,503.82 741.83,504.52 742.53,505.21 743.23,505.90 743.93,506.59 744.63,507.28 745.33,507.96 746.03,508.65 746.73,509.34 747.43,510.04 748.10,510.70 748.13,510.73 748.84,511.43 749.54,512.13 750.24,512.82 750.94,513.50 751.64,514.19 752.34,514.88 753.04,515.56 753.74,516.25 754.44,516.94 755.14,517.64 755.84,518.34 756.54,519.05 757.24,519.77 757.94,520.50 758.64,521.23 758.80,521.40 759.34,521.98 760.04,522.74 760.74,523.51 761.44,524.29 762.15,525.08 762.85,525.87 763.55,526.67 764.25,527.48 764.95,528.28 765.65,529.09 766.35,529.90 767.05,530.71 767.75,531.52 768.45,532.32 769.15,533.12 769.40,533.40 769.85,533.91 770.55,534.69 771.25,535.47 771.95,536.25 772.65,537.02 773.35,537.79 774.05,538.57 774.75,539.34 775.46,540.12 776.16,540.91 776.86,541.70 777.56,542.50 778.26,543.31 778.96,544.13 779.66,544.97 780.10,545.50 780.36,545.82 781.06,546.69 781.76,547.58 782.46,548.49 783.16,549.41 783.86,550.35 784.56,551.29 785.26,552.23 785.96,553.18 786.66,554.13 787.36,555.07 788.06,556.00 788.77,556.92 789.47,557.82 790.00,558.50 790.17,558.71 790.87,559.59 791.57,560.46 792.27,561.33 792.97,562.20 793.67,563.06 794.37,563.91 795.07,564.76 795.77,565.60 796.47,566.43 797.17,567.26 797.87,568.07 798.50,568.80 798.57,568.88 799.27,569.70 799.97,570.52 800.67,571.35 801.37,572.17 802.08,572.99 802.78,573.80 803.48,574.59 804.18,575.35 804.88,576.09 805.58,576.80 806.28,577.47 806.98,578.10 807.10,578.20 807.68,578.68 808.38,579.25 809.08,579.79 809.78,580.30 810.48,580.81 811.18,581.29 811.88,581.76 812.58,582.22 813.28,582.67 813.98,583.11 814.68,583.54 815.39,583.97 815.60,584.10 816.09,584.39 816.79,584.80 817.49,585.21 818.19,585.60 818.89,585.98 819.59,586.36 820.29,586.73 820.99,587.10 821.69,587.46 822.39,587.82 823.09,588.18 823.79,588.54 824.10,588.70 824.49,588.90 825.19,589.26 825.89,589.61 826.59,589.97 827.29,590.32 827.99,590.67 828.70,591.01 829.40,591.35 830.10,591.69 830.80,592.03 831.50,592.37 832.20,592.70 832.90,593.03 833.60,593.36 834.30,593.68 835.00,594.00" stroke="#ff0000" stroke-width="2.2" stroke-dasharray="10.1 5.05"/><polyline points="109.60,450.60 114.80,458.00 119.90,432.40 125.10,431.00 129.50,423.00 135.40,393.00 140.60,425.00 145.40,390.80 150.30,426.40 155.50,383.40 160.50,396.00 165.60,396.00 170.60,375.00 175.40,388.00 180.80,415.00 185.20,374.00 190.60,367.00 195.60,378.00 200.80,447.80 205.40,378.00 206.11,375.23 206.81,372.70 207.52,370.40 208.22,368.36 208.93,366.60 209.20,366.00 209.63,365.10 210.34,363.76 211.04,362.65 211.60,362.00 211.75,361.85 212.46,361.18 213.16,360.59 213.87,360.17 214.57,360.00 214.60,360.00 215.28,360.09 215.98,360.32 216.40,360.50 216.69,360.70 217.39,361.62 218.10,362.90 218.70,364.00 218.81,364.18 219.51,365.39 220.22,366.68 220.92,368.12 221.63,369.81 221.70,370.00 222.33,371.96 223.04,374.65 223.74,377.69 224.45,380.87 224.70,382.00 225.16,384.31 225.86,388.23 226.50,391.00 226.57,391.21 227.27,393.39 227.98,395.43 228.68,397.23 229.39,398.67 230.09,399.63 230.80,400.00 231.51,396.97 232.22,393.75 232.93,390.34 233.00,390.00 233.64,386.58 234.35,382.49 235.06,378.62 235.40,377.00 235.77,375.37 236.48,372.39 237.19,369.62 237.90,367.09 238.61,364.83 238.90,364.00 239.32,362.84 240.03,360.94 240.74,359.20 241.45,357.68 242.16,356.46 242.50,356.00 242.87,355.55 243.58,354.71 244.29,353.94 245.00,353.26 245.71,352.71 246.42,352.35 247.13,352.20 247.20,352.20 247.84,352.23 248.55,352.33 249.26,352.49 249.97,352.70 250.68,352.95 251.39,353.24 252.00,353.50 252.10,353.55 252.81,354.00 253.52,354.65 254.23,355.45 254.94,356.38 255.65,357.40 256.36,358.48 256.70,359.00 257.07,359.59 257.78,360.81 258.49,362.18 259.20,363.71 259.91,365.42 260.62,367.33 261.33,369.46 261.50,370.00 262.04,371.81 262.75,374.50 263.46,377.76 264.17,381.85 264.88,387.01 265.00,388.00 265.59,395.68 266.30,408.80 267.00,405.25 267.70,401.70 268.40,398.14 269.10,394.58 269.80,391.02 270.00,390.00 270.50,387.36 271.20,383.44 271.90,379.42 272.60,375.49 273.30,371.82 274.00,368.60 274.70,366.00 275.40,363.88 276.10,361.95 276.80,360.22 277.50,358.68 278.20,357.32 278.90,356.15 279.00,356.00 279.60,355.14 280.30,354.25 281.00,353.46 281.70,352.74 282.40,352.06 283.00,351.50 283.10,351.41 283.80,350.74 284.50,350.04 285.20,349.35 285.90,348.67 286.60,348.03 287.30,347.44 288.00,346.93 288.70,346.51 289.40,346.20 290.10,346.01 290.20,346.00 290.80,345.93 291.50,345.84 292.20,345.77 292.90,345.70 293.60,345.65 294.30,345.60 295.00,345.56 295.70,345.53 296.40,345.51 297.10,345.50 297.30,345.50 297.80,345.53 298.50,345.65 299.20,345.87 299.90,346.16 300.60,346.52 301.30,346.92 302.00,347.37 302.70,347.84 303.40,348.32 304.10,348.80 304.40,349.00 304.80,349.28 305.50,349.82 306.20,350.42 306.90,351.08 307.60,351.79 308.30,352.54 309.00,353.33 309.70,354.15 310.40,355.00 311.10,355.88 311.80,356.79 312.50,357.75 313.20,358.75 313.90,359.82 314.60,360.95 315.30,362.16 316.00,363.44 316.70,364.82 317.40,366.28 317.50,366.50 318.10,368.03 318.80,370.17 319.50,372.36 319.90,373.50 320.20,374.28 320.90,375.98 321.60,377.59 322.30,379.21 323.00,380.93 323.40,382.00 323.70,382.85 324.40,384.96 325.10,387.22 325.80,389.60 326.50,388.32 327.20,386.98 327.90,385.58 328.60,384.14 329.30,382.65 330.00,381.11 330.50,380.00 330.70,379.53 331.41,377.80 332.11,375.97 332.81,374.12 333.51,372.36 334.10,371.00 334.21,370.77 334.91,369.30 335.61,367.88 336.31,366.53 337.01,365.22 337.71,363.95 338.41,362.71 339.11,361.50 339.81,360.31 340.00,360.00 340.51,359.13 341.22,357.96 341.92,356.81 342.62,355.68 343.32,354.61 344.02,353.60 344.72,352.65 345.00,352.30 345.42,351.79 346.12,350.94 346.82,350.13 347.52,349.35 348.22,348.61 348.92,347.92 349.62,347.28 350.32,346.71 350.90,346.30 351.02,346.22 351.73,345.76 352.43,345.33 353.13,344.93 353.83,344.55 354.53,344.19 355.23,343.85 355.93,343.54 356.63,343.25 357.33,342.98 358.03,342.72 358.40,342.60 358.73,342.49 359.43,342.26 360.13,342.03 360.83,341.82 361.53,341.62 362.24,341.45 362.94,341.30 363.64,341.18 364.30,341.10 364.34,341.10 365.04,341.03 365.74,340.98 366.44,340.92 367.14,340.87 367.84,340.82 368.54,340.79 369.24,340.75 369.94,340.73 370.64,340.71 371.34,340.70 371.70,340.70 372.05,340.70 372.75,340.73 373.45,340.78 374.15,340.85 374.85,340.93 375.55,341.04 376.25,341.16 376.95,341.29 377.65,341.42 378.35,341.57 379.05,341.72 379.75,341.87 379.90,341.90 380.45,342.03 381.15,342.23 381.85,342.47 382.56,342.73 383.26,343.02 383.96,343.32 384.66,343.63 385.36,343.94 386.06,344.26 386.76,344.57 387.30,344.80 387.46,344.87 388.16,345.15 388.86,345.44 389.56,345.72 390.26,346.01 390.96,346.31 391.66,346.62 392.37,346.95 393.07,347.30 393.77,347.67 394.00,347.80 394.47,348.08 395.17,348.54 395.87,349.04 396.57,349.57 397.27,350.13 397.97,350.70 398.67,351.29 399.37,351.87 399.90,352.30 400.07,352.44 400.77,353.02 401.47,353.61 402.17,354.22 402.88,354.83 403.58,355.45 404.28,356.07 404.98,356.68 405.68,357.29 405.80,357.40 406.38,357.89 407.08,358.48 407.78,359.06 408.48,359.64 409.18,360.22 409.88,360.83 410.58,361.45 411.28,362.10 411.80,362.60 411.98,362.79 412.68,363.53 413.39,364.33 414.09,365.17 414.79,366.02 415.49,366.87 416.19,367.69 416.89,368.48 417.00,368.60 417.59,369.23 418.29,369.98 418.99,370.71 419.69,371.43 420.39,372.13 421.09,372.80 421.79,373.45 422.20,373.80 422.49,374.05 423.20,374.64 423.90,375.21 424.60,375.76 425.30,376.29 426.00,376.80 426.70,377.29 427.40,377.76 428.10,378.20 428.80,378.19 429.50,378.17 430.20,378.14 430.90,378.09 431.60,378.03 432.31,377.96 433.01,377.88 433.71,377.78 434.41,377.68 435.11,377.57 435.81,377.45 436.10,377.40 436.51,377.30 437.21,377.03 437.91,376.65 438.61,376.18 439.32,375.65 440.02,375.08 440.72,374.50 441.42,373.93 442.10,373.40 442.12,373.39 442.82,372.84 443.52,372.26 444.22,371.65 444.92,371.02 445.62,370.39 446.32,369.77 447.03,369.18 447.73,368.61 448.43,368.09 448.70,367.90 449.13,367.62 449.83,367.18 450.53,366.76 451.23,366.36 451.93,365.97 452.63,365.59 453.33,365.22 454.03,364.85 454.70,364.50 454.74,364.48 455.44,364.11 456.14,363.74 456.84,363.37 457.54,363.01 458.24,362.65 458.94,362.30 459.64,361.95 460.34,361.61 461.04,361.28 461.75,360.96 462.10,360.80 462.45,360.64 463.15,360.33 463.85,360.02 464.55,359.71 465.25,359.40 465.95,359.10 466.65,358.82 467.35,358.54 468.05,358.28 468.75,358.04 469.46,357.81 469.50,357.80 470.16,357.60 470.86,357.40 471.56,357.21 472.26,357.03 472.96,356.86 473.66,356.69 474.36,356.53 475.06,356.38 475.76,356.23 476.46,356.09 476.90,356.00 477.17,355.95 477.87,355.81 478.57,355.67 479.27,355.53 479.97,355.40 480.67,355.27 481.37,355.15 482.07,355.04 482.77,354.95 483.47,354.87 484.18,354.81 484.30,354.80 484.88,354.76 485.58,354.72 486.28,354.68 486.98,354.64 487.68,354.61 488.38,354.58 489.08,354.55 489.78,354.53 490.48,354.51 491.18,354.50 491.80,354.50 491.89,354.50 492.59,354.51 493.29,354.52 493.99,354.54 494.69,354.57 495.39,354.60 496.09,354.63 496.79,354.67 497.49,354.71 498.19,354.75 498.89,354.78 499.20,354.80 499.60,354.82 500.30,354.86 501.00,354.90 501.70,354.94 502.40,354.98 503.10,355.03 503.80,355.08 504.50,355.13 505.20,355.18 505.90,355.24 506.60,355.30 506.61,355.30 507.31,355.37 508.01,355.45 508.71,355.53 509.41,355.62 510.11,355.72 510.81,355.82 511.51,355.93 512.21,356.03 512.91,356.14 513.61,356.24 514.00,356.30 514.32,356.35 515.02,356.45 515.72,356.56 516.42,356.67 517.12,356.78 517.82,356.89 518.52,357.00 519.22,357.12 519.92,357.24 520.62,357.36 521.32,357.49 521.40,357.50 522.03,357.61 522.73,357.74 523.43,357.88 524.13,358.01 524.83,358.15 525.53,358.28 526.23,358.42 526.93,358.57 527.63,358.71 528.33,358.86 529.04,359.00 529.74,359.15 530.44,359.31 531.14,359.46 531.84,359.61 532.54,359.77 533.24,359.93 533.94,360.09 534.64,360.25 535.34,360.41 536.04,360.58 536.75,360.75 537.45,360.91 537.80,361.00 538.15,361.08 538.85,361.26 539.55,361.43 540.25,361.61 540.95,361.78 541.65,361.96 542.35,362.15 543.05,362.33 543.75,362.52 544.46,362.71 545.16,362.90 545.86,363.09 546.56,363.29 547.26,363.49 547.96,363.69 548.66,363.89 549.36,364.09 550.06,364.30 550.76,364.51 551.47,364.72 552.17,364.93 552.87,365.14 553.57,365.36 554.27,365.58 554.97,365.80 555.60,366.00 555.67,366.02 556.37,366.25 557.07,366.48 557.77,366.72 558.47,366.96 559.18,367.20 559.88,367.45 560.58,367.70 561.28,367.95 561.98,368.21 562.68,368.47 563.38,368.73 564.08,369.00 564.78,369.26 565.48,369.53 566.18,369.80 566.89,370.07 567.59,370.34 568.29,370.62 568.99,370.89 569.69,371.16 570.39,371.43 571.09,371.71 571.79,371.98 572.49,372.25 573.19,372.52 573.40,372.60 573.90,372.79 574.60,373.06 575.30,373.33 576.00,373.60 576.70,373.87 577.40,374.14 578.10,374.42 578.80,374.69 579.50,374.96 580.20,375.24 580.90,375.51 581.61,375.79 582.31,376.07 583.01,376.35 583.71,376.63 584.41,376.91 585.11,377.19 585.81,377.47 586.51,377.76 587.21,378.04 587.91,378.33 588.62,378.62 589.32,378.91 590.02,379.20 590.72,379.50 591.20,379.70 591.42,379.79 592.12,380.09 592.82,380.39 593.52,380.69 594.22,380.99 594.92,381.30 595.62,381.60 596.33,381.91 597.03,382.22 597.73,382.53 598.43,382.84 599.13,383.15 599.83,383.47 600.53,383.78 601.23,384.10 601.93,384.42 602.63,384.74 603.33,385.06 604.04,385.38 604.74,385.70 605.44,386.03 606.14,386.36 606.84,386.68 607.54,387.01 608.24,387.34 608.94,387.67 609.00,387.70 609.64,388.01 610.34,388.34 611.05,388.67 611.75,389.01 612.45,389.35 613.15,389.69 613.85,390.03 614.55,390.37 615.25,390.71 615.95,391.06 616.65,391.40 617.35,391.75 618.05,392.10 618.76,392.45 619.46,392.80 620.16,393.16 620.86,393.51 621.56,393.87 622.26,394.23 622.96,394.59 623.66,394.95 624.36,395.32 625.06,395.68 625.76,396.05 626.47,396.42 626.80,396.60 627.17,396.79 627.87,397.17 628.57,397.55 629.27,397.93 629.97,398.31 630.67,398.70 631.37,399.08 632.07,399.47 632.77,399.86 633.48,400.26 634.18,400.65 634.88,401.05 635.58,401.45 636.28,401.85 636.98,402.25 637.68,402.65 638.38,403.06 639.08,403.46 639.78,403.87 640.48,404.28 641.19,404.68 641.89,405.09 641.90,405.10 642.59,405.50 643.29,405.91 643.99,406.32 644.69,406.74 645.39,407.15 646.09,407.57 646.79,407.99 647.49,408.41 648.19,408.83 648.90,409.25 649.60,409.68 650.30,410.10 651.00,410.53 651.70,410.96 652.40,411.39 653.10,411.83 653.70,412.20 653.80,412.26 654.50,412.70 655.20,413.15 655.91,413.60 656.61,414.06 657.31,414.51 658.01,414.97 658.71,415.43 659.41,415.90 660.11,416.36 660.81,416.82 661.51,417.28 662.21,417.74 662.91,418.19 663.62,418.65 664.32,419.09 665.02,419.54 665.60,419.90 665.72,419.97 666.42,420.40 667.12,420.83 667.82,421.25 668.52,421.67 669.22,422.08 669.92,422.49 670.62,422.90 671.33,423.31 672.03,423.72 672.73,424.13 673.43,424.54 674.13,424.95 674.83,425.37 675.53,425.79 676.23,426.22 676.93,426.65 677.50,427.00 677.63,427.08 678.34,427.53 679.04,427.97 679.74,428.42 680.44,428.88 681.14,429.34 681.84,429.80 682.54,430.26 683.24,430.72 683.94,431.19 684.64,431.66 685.34,432.13 686.05,432.60 686.75,433.08 687.45,433.55 688.15,434.02 688.85,434.50 689.30,434.80 689.55,434.97 690.25,435.44 690.95,435.92 691.65,436.40 692.35,436.89 693.05,437.37 693.76,437.86 694.46,438.34 695.16,438.83 695.86,439.32 696.56,439.81 697.26,440.30 697.96,440.80 698.66,441.29 699.36,441.78 700.06,442.27 700.77,442.76 701.47,443.25 702.17,443.74 702.87,444.23 703.57,444.71 704.27,445.20 704.97,445.68 705.67,446.16 706.37,446.64 707.07,447.11 707.77,447.58 707.80,447.60 708.48,448.05 709.18,448.52 709.88,448.98 710.58,449.43 711.28,449.89 711.98,450.34 712.68,450.79 713.38,451.24 714.08,451.68 714.78,452.13 715.48,452.57 716.19,453.02 716.89,453.46 717.59,453.91 718.29,454.36 718.99,454.81 719.69,455.26 720.39,455.71 721.09,456.17 721.79,456.63 722.49,457.09 723.20,457.56 723.90,458.03 724.60,458.51 725.30,458.99 725.60,459.20 726.00,459.48 726.70,459.97 727.40,460.47 728.10,460.97 728.80,461.47 729.50,461.98 730.20,462.49 730.91,463.00 731.61,463.52 732.31,464.04 733.01,464.56 733.71,465.08 734.41,465.61 735.11,466.14 735.81,466.67 736.51,467.20 737.21,467.74 737.92,468.27 738.62,468.81 739.32,469.35 740.02,469.89 740.72,470.43 741.42,470.97 742.12,471.51 742.82,472.05 743.40,472.50 743.52,472.59 744.22,473.14 744.92,473.69 745.63,474.24 746.33,474.79 747.03,475.35 747.73,475.91 748.43,476.47 749.13,477.03 749.83,477.59 750.53,478.16 751.23,478.73 751.93,479.29 752.63,479.86 753.34,480.43 754.04,481.00 754.74,481.57 755.44,482.14 756.14,482.71 756.84,483.28 757.54,483.85 758.24,484.42 758.94,484.98 759.64,485.55 760.35,486.11 761.05,486.68 761.20,486.80 761.75,487.24 762.45,487.80 763.15,488.36 763.85,488.92 764.55,489.48 765.25,490.04 765.95,490.60 766.65,491.16 767.35,491.72 768.06,492.29 768.76,492.85 769.46,493.41 770.16,493.97 770.86,494.52 771.56,495.08 772.26,495.64 772.96,496.20 773.66,496.76 774.36,497.32 775.06,497.88 775.77,498.43 776.47,498.99 777.17,499.55 777.87,500.10 778.57,500.66 779.00,501.00 779.27,501.21 779.97,501.77 780.67,502.31 781.37,502.86 782.07,503.40 782.78,503.94 783.48,504.47 784.18,505.01 784.88,505.54 785.58,506.07 786.28,506.61 786.98,507.14 787.68,507.68 788.38,508.22 789.08,508.76 789.78,509.30 790.49,509.85 791.19,510.40 791.89,510.95 792.59,511.51 793.29,512.07 793.99,512.64 794.69,513.22 795.39,513.80 796.09,514.40 796.79,514.99 796.80,515.00 797.49,515.60 798.20,516.22 798.90,516.84 799.60,517.47 800.30,518.10 801.00,518.74 801.70,519.39 802.40,520.05 803.10,520.71 803.80,521.38 804.50,522.05 805.21,522.73 805.91,523.42 806.61,524.11 807.31,524.81 808.00,525.50 808.01,525.51 808.71,526.22 809.41,526.96 810.11,527.71 810.81,528.47 811.51,529.25 812.21,530.04 812.92,530.83 813.62,531.63 814.32,532.44 815.02,533.25 815.72,534.06 816.42,534.88 817.12,535.68 817.82,536.49 818.52,537.29 819.22,538.08 819.92,538.86 820.63,539.63 821.33,540.38 822.03,541.12 822.73,541.84 823.43,542.55 824.10,543.20 824.13,543.23 824.83,543.89 825.53,544.55 826.23,545.18 826.93,545.81 827.64,546.43 828.34,547.04 829.04,547.64 829.74,548.23 830.44,548.82 831.14,549.40 831.84,549.98 832.54,550.55 833.24,551.12 833.94,551.69 834.64,552.26 835.35,552.82 836.05,553.39 836.75,553.96 837.45,554.54 838.15,555.12 838.85,555.70 839.55,556.29 840.25,556.88 840.95,557.49 841.20,557.70 841.65,558.09 842.35,558.70 843.06,559.30 843.76,559.90 844.46,560.50 845.16,561.10 845.86,561.70 846.56,562.30 847.26,562.90 847.96,563.50 848.66,564.10 849.36,564.71 850.07,565.32 850.77,565.93 851.47,566.55 852.17,567.18 852.87,567.81 853.57,568.45 854.27,569.10 854.97,569.75 855.67,570.42 856.37,571.09 857.07,571.78 857.78,572.47 858.30,573.00 858.48,573.18 859.18,573.90 859.88,574.64 860.58,575.40 861.28,576.17 861.98,576.95 862.68,577.75 863.38,578.55 864.08,579.37 864.78,580.19 865.49,581.02 866.19,581.86 866.89,582.70 867.59,583.54 868.29,584.39 868.99,585.24 869.69,586.09 870.20,586.70 870.39,586.93 871.09,587.79 871.79,588.65 872.50,589.53 873.20,590.41 873.90,591.30 874.60,592.19 875.30,593.10 876.00,594.00" stroke="#0000ff" stroke-width="2.2" stroke-dasharray="2.2 5.43"/><polyline points="109.60,457.60 114.80,442.80 119.90,433.00 125.10,431.00 129.50,424.00 135.40,402.70 140.60,417.50 145.40,399.70 150.30,419.00 156.20,389.30 160.50,398.00 165.60,398.80 170.60,381.00 175.40,390.00 180.80,405.90 185.20,378.00 190.60,373.90 195.60,380.00 200.80,411.30 205.40,381.00 206.11,378.15 206.81,375.56 207.52,373.25 208.22,371.24 208.93,369.56 209.20,369.00 209.63,368.15 210.34,366.86 211.04,365.89 211.60,365.50 211.75,365.45 212.46,365.27 213.16,365.12 213.87,365.03 214.57,365.00 214.60,365.00 215.28,365.09 215.98,365.32 216.40,365.50 216.69,365.68 217.39,366.49 218.10,367.57 218.70,368.50 218.81,368.65 219.51,369.67 220.22,370.73 220.92,371.92 221.63,373.34 221.70,373.50 222.33,375.18 223.04,377.53 223.74,380.20 224.45,383.01 224.70,384.00 225.16,386.03 225.86,389.47 226.50,392.00 226.57,392.20 227.27,394.27 227.98,396.22 228.68,397.95 229.39,399.38 230.09,400.43 230.80,401.00 231.50,397.91 232.20,394.73 232.91,391.45 233.00,391.00 233.61,387.94 234.31,384.23 235.01,380.71 235.40,379.00 235.71,377.72 236.42,374.97 237.12,372.40 237.82,370.06 238.52,367.99 238.90,367.00 239.22,366.21 239.93,364.57 240.63,363.07 241.33,361.74 242.03,360.62 242.50,360.00 242.73,359.72 243.43,358.87 244.14,358.05 244.84,357.30 245.54,356.69 246.24,356.24 246.94,356.02 247.20,356.00 247.65,356.02 248.35,356.11 249.05,356.28 249.75,356.51 250.45,356.78 251.16,357.09 251.86,357.43 252.00,357.50 252.56,357.84 253.26,358.42 253.96,359.15 254.67,360.01 255.37,360.97 256.07,362.01 256.70,363.00 256.77,363.11 257.47,364.33 258.18,365.72 258.88,367.29 259.58,369.05 260.28,371.03 260.98,373.23 261.50,375.00 261.68,375.67 262.39,378.47 263.09,381.82 263.79,385.87 264.49,390.80 265.00,395.00 265.19,396.91 265.90,406.54 266.60,419.38 267.30,434.00 268.01,425.43 268.72,417.68 269.42,410.89 270.00,406.20 270.13,405.23 270.84,400.69 271.55,396.76 272.26,392.84 272.40,392.00 272.97,388.42 273.67,383.64 274.38,378.89 275.09,374.56 275.80,371.02 275.90,370.60 276.51,368.28 277.22,365.86 277.92,363.72 278.63,361.85 279.34,360.23 279.50,359.90 280.05,358.81 280.76,357.47 281.46,356.23 282.17,355.12 282.88,354.15 283.59,353.34 284.20,352.80 284.30,352.73 285.01,352.20 285.71,351.72 286.42,351.27 287.13,350.87 287.84,350.52 288.55,350.23 289.26,350.00 289.96,349.84 290.20,349.80 290.67,349.73 291.38,349.63 292.09,349.55 292.80,349.46 293.50,349.39 294.21,349.33 294.92,349.28 295.63,349.24 296.34,349.21 297.05,349.20 297.30,349.20 297.75,349.22 298.46,349.32 299.17,349.50 299.88,349.74 300.59,350.05 301.30,350.39 302.00,350.78 302.71,351.19 303.42,351.61 304.13,352.04 304.40,352.20 304.84,352.48 305.54,352.98 306.25,353.56 306.96,354.20 307.67,354.90 308.38,355.66 309.09,356.47 309.79,357.33 310.40,358.10 310.50,358.23 311.21,359.22 311.92,360.30 312.63,361.49 313.34,362.78 314.04,364.18 314.75,365.69 315.46,367.32 316.17,369.06 316.30,369.40 316.88,371.06 317.58,373.49 318.29,376.17 319.00,378.95 319.30,380.10 319.71,381.66 320.42,384.41 321.13,387.26 321.83,390.32 322.20,392.00 322.54,393.74 323.25,397.90 323.96,402.29 324.67,406.27 325.20,408.60 325.38,409.23 326.08,411.60 326.79,413.57 327.50,415.00 328.20,410.28 328.90,405.79 329.60,401.58 330.30,397.73 330.50,396.70 331.00,394.21 331.70,390.85 332.40,387.67 333.10,384.70 333.80,381.98 334.50,379.54 334.70,378.90 335.20,377.38 335.90,375.38 336.60,373.54 337.30,371.81 338.00,370.19 338.70,368.64 339.40,367.15 340.00,365.90 340.10,365.69 340.80,364.28 341.50,362.91 342.20,361.60 342.90,360.33 343.60,359.10 344.30,357.92 345.00,356.77 345.70,355.67 346.00,355.20 346.40,354.58 347.10,353.48 347.80,352.40 348.50,351.36 349.20,350.39 349.90,349.52 350.60,348.77 350.90,348.50 351.30,348.16 352.00,347.61 352.70,347.09 353.40,346.62 354.10,346.19 354.80,345.79 355.50,345.43 356.20,345.10 356.90,344.80 357.60,344.51 358.30,344.22 359.00,343.93 359.70,343.65 360.40,343.39 361.10,343.16 361.80,342.96 362.50,342.79 363.20,342.67 363.90,342.61 364.30,342.60 364.60,342.60 365.30,342.60 366.00,342.60 366.70,342.60 367.40,342.60 368.10,342.60 368.80,342.60 369.50,342.60 370.20,342.60 370.90,342.60 371.60,342.60 372.30,342.60 373.00,342.60 373.70,342.60 374.40,342.60 374.70,342.60 375.10,342.61 375.80,342.65 376.50,342.74 377.20,342.85 377.90,342.98 378.60,343.14 379.30,343.30 380.00,343.46 380.60,343.60 380.70,343.62 381.40,343.80 382.10,344.01 382.80,344.24 383.50,344.48 384.20,344.74 384.90,345.00 385.60,345.27 386.30,345.53 386.50,345.60 387.00,345.78 387.70,346.01 388.40,346.24 389.10,346.47 389.80,346.70 390.50,346.94 391.20,347.20 391.90,347.48 392.60,347.78 393.30,348.12 394.00,348.50 394.70,348.97 395.40,349.58 396.10,350.28 396.80,351.05 397.50,351.86 398.20,352.68 398.90,353.47 399.60,354.21 399.90,354.50 400.30,354.87 401.00,355.48 401.70,356.07 402.40,356.64 403.10,357.22 403.80,357.81 404.50,358.42 405.20,359.09 405.80,359.70 405.90,359.81 406.60,360.60 407.30,361.47 408.00,362.39 408.70,363.35 409.40,364.33 410.10,365.32 410.30,365.60 410.80,366.30 411.50,367.31 412.20,368.33 412.90,369.37 413.60,370.42 414.30,371.50 415.00,372.59 415.70,373.70 416.20,374.50 416.40,374.82 417.10,375.98 417.80,377.17 418.50,378.39 419.20,379.62 419.90,380.86 420.60,382.10 421.30,383.33 422.00,384.56 422.20,384.90 422.70,385.76 423.40,386.96 424.10,388.16 424.80,389.36 425.50,390.55 426.20,391.75 426.90,392.94 427.60,394.13 428.30,395.31 429.00,396.50 429.70,396.28 430.40,395.92 431.10,395.45 431.80,394.87 432.50,394.21 433.20,393.48 433.91,392.70 434.60,391.90 434.61,391.89 435.31,390.88 436.01,389.57 436.71,388.05 437.41,386.43 438.11,384.81 438.81,383.29 439.51,381.96 439.80,381.50 440.21,380.89 440.91,379.90 441.61,378.97 442.31,378.10 443.02,377.26 443.72,376.46 444.42,375.69 445.12,374.93 445.82,374.18 446.52,373.44 447.22,372.69 447.30,372.60 447.92,371.93 448.62,371.16 449.32,370.41 450.02,369.66 450.72,368.92 451.42,368.21 452.13,367.51 452.83,366.84 453.53,366.20 454.23,365.59 454.70,365.20 454.93,365.02 455.63,364.47 456.33,363.93 457.03,363.41 457.73,362.90 458.43,362.41 459.13,361.94 459.83,361.48 460.53,361.04 461.24,360.61 461.94,360.20 462.64,359.81 463.34,359.44 463.60,359.30 464.04,359.08 464.74,358.72 465.44,358.37 466.14,358.03 466.84,357.70 467.54,357.38 468.24,357.07 468.94,356.78 469.64,356.50 470.35,356.25 471.05,356.01 471.75,355.80 472.45,355.61 472.50,355.60 473.15,355.44 473.85,355.27 474.55,355.11 475.25,354.95 475.95,354.79 476.65,354.64 477.35,354.50 478.05,354.36 478.75,354.23 479.45,354.11 480.16,354.00 480.86,353.90 481.56,353.82 482.26,353.74 482.96,353.68 483.66,353.63 484.30,353.60 484.36,353.60 485.06,353.57 485.76,353.55 486.46,353.52 487.16,353.50 487.86,353.48 488.56,353.46 489.27,353.45 489.97,353.43 490.67,353.42 491.37,353.41 492.07,353.40 492.77,353.40 493.20,353.40 493.47,353.40 494.17,353.41 494.87,353.42 495.57,353.45 496.27,353.48 496.97,353.51 497.67,353.55 498.38,353.60 499.08,353.64 499.78,353.69 500.48,353.75 501.18,353.80 501.88,353.86 502.58,353.91 503.28,353.97 503.98,354.02 504.68,354.07 505.10,354.10 505.38,354.12 506.08,354.17 506.78,354.21 507.49,354.26 508.19,354.31 508.89,354.36 509.59,354.41 510.29,354.47 510.99,354.52 511.69,354.58 512.39,354.64 513.09,354.71 513.79,354.78 514.00,354.80 514.49,354.85 515.19,354.94 515.89,355.02 516.60,355.12 517.30,355.22 518.00,355.32 518.70,355.43 519.40,355.55 520.10,355.67 520.80,355.79 521.50,355.92 522.20,356.05 522.90,356.18 523.60,356.32 524.30,356.46 525.00,356.60 525.00,356.60 525.71,356.75 526.41,356.91 527.11,357.07 527.81,357.25 528.51,357.43 529.21,357.62 529.91,357.81 530.61,358.01 531.31,358.21 532.01,358.42 532.71,358.62 533.41,358.83 534.11,359.04 534.82,359.24 535.52,359.45 536.22,359.65 536.92,359.85 537.62,360.05 537.80,360.10 538.32,360.24 539.02,360.43 539.72,360.62 540.42,360.81 541.12,360.99 541.82,361.18 542.52,361.36 543.22,361.55 543.93,361.73 544.63,361.91 545.33,362.10 546.03,362.28 546.73,362.47 547.43,362.66 548.13,362.84 548.83,363.03 549.53,363.23 550.23,363.42 550.93,363.62 551.63,363.81 552.33,364.02 553.04,364.22 553.74,364.43 554.44,364.64 555.14,364.86 555.60,365.00 555.84,365.08 556.54,365.30 557.24,365.53 557.94,365.76 558.64,366.00 559.34,366.24 560.04,366.48 560.74,366.73 561.44,366.98 562.15,367.24 562.85,367.49 563.55,367.75 564.25,368.01 564.95,368.27 565.65,368.54 566.35,368.80 567.05,369.07 567.75,369.34 568.45,369.61 569.15,369.88 569.85,370.15 570.55,370.41 571.25,370.68 571.96,370.95 572.66,371.22 573.36,371.48 573.40,371.50 574.06,371.75 574.76,372.01 575.46,372.28 576.16,372.55 576.86,372.81 577.56,373.08 578.26,373.35 578.96,373.62 579.66,373.89 580.36,374.16 581.07,374.43 581.77,374.70 582.47,374.97 583.17,375.25 583.87,375.52 584.57,375.80 585.27,376.08 585.97,376.36 586.67,376.64 587.37,376.92 588.07,377.21 588.77,377.49 589.47,377.78 590.18,378.07 590.88,378.36 591.20,378.50 591.58,378.66 592.28,378.95 592.98,379.25 593.68,379.55 594.38,379.85 595.08,380.16 595.78,380.46 596.48,380.77 597.18,381.07 597.88,381.38 598.58,381.70 599.29,382.01 599.99,382.32 600.69,382.64 601.39,382.96 602.09,383.28 602.79,383.60 603.49,383.92 604.19,384.24 604.89,384.57 605.59,384.89 606.29,385.22 606.99,385.55 607.69,385.88 608.40,386.21 609.00,386.50 609.10,386.55 609.80,386.88 610.50,387.21 611.20,387.55 611.90,387.89 612.60,388.23 613.30,388.57 614.00,388.91 614.70,389.25 615.40,389.60 616.10,389.94 616.80,390.29 617.51,390.64 618.21,390.99 618.91,391.35 619.61,391.70 620.31,392.06 621.01,392.42 621.71,392.78 622.41,393.15 623.11,393.52 623.81,393.89 624.51,394.26 625.21,394.64 625.91,395.02 626.62,395.40 626.80,395.50 627.32,395.78 628.02,396.18 628.72,396.57 629.42,396.97 630.12,397.38 630.82,397.79 631.52,398.20 632.22,398.62 632.92,399.04 633.62,399.46 634.32,399.89 635.02,400.31 635.73,400.74 636.43,401.17 637.13,401.60 637.83,402.03 638.53,402.46 639.23,402.88 639.93,403.31 640.63,403.74 641.33,404.16 641.90,404.50 642.03,404.58 642.73,405.00 643.43,405.42 644.13,405.83 644.84,406.25 645.54,406.67 646.24,407.08 646.94,407.50 647.64,407.92 648.34,408.34 649.04,408.76 649.74,409.18 650.44,409.60 651.14,410.03 651.84,410.45 652.54,410.88 653.24,411.32 653.70,411.60 653.95,411.75 654.65,412.19 655.35,412.64 656.05,413.09 656.75,413.55 657.45,414.00 658.15,414.46 658.85,414.92 659.55,415.38 660.25,415.84 660.95,416.30 661.65,416.76 662.35,417.22 663.05,417.68 663.76,418.13 664.46,418.58 665.16,419.02 665.60,419.30 665.86,419.46 666.56,419.90 667.26,420.33 667.96,420.75 668.66,421.18 669.36,421.60 670.06,422.02 670.76,422.44 671.46,422.86 672.16,423.27 672.87,423.69 673.57,424.11 674.27,424.53 674.97,424.95 675.67,425.38 676.37,425.80 677.07,426.23 677.50,426.50 677.77,426.67 678.47,427.10 679.17,427.54 679.87,427.98 680.57,428.43 681.27,428.87 681.98,429.32 682.68,429.76 683.38,430.21 684.08,430.66 684.78,431.11 685.48,431.56 686.18,432.01 686.88,432.45 687.58,432.90 688.28,433.35 688.98,433.80 689.30,434.00 689.68,434.24 690.38,434.69 691.09,435.13 691.79,435.57 692.49,436.02 693.19,436.46 693.89,436.90 694.59,437.34 695.29,437.78 695.99,438.22 696.69,438.66 697.39,439.10 698.09,439.54 698.79,439.98 699.49,440.42 700.20,440.87 700.90,441.31 701.60,441.76 702.30,442.21 703.00,442.66 703.70,443.11 704.40,443.56 705.10,444.02 705.80,444.48 706.50,444.94 707.20,445.40 707.80,445.80 707.90,445.87 708.60,446.34 709.31,446.81 710.01,447.29 710.71,447.76 711.41,448.24 712.11,448.73 712.81,449.21 713.51,449.69 714.21,450.18 714.91,450.67 715.61,451.16 716.31,451.65 717.01,452.15 717.71,452.64 718.42,453.14 719.12,453.64 719.82,454.14 720.52,454.64 721.22,455.14 721.92,455.64 722.62,456.15 723.32,456.65 724.02,457.16 724.72,457.66 725.42,458.17 725.60,458.30 726.12,458.68 726.82,459.19 727.53,459.70 728.23,460.22 728.93,460.73 729.63,461.25 730.33,461.77 731.03,462.29 731.73,462.82 732.43,463.34 733.13,463.86 733.83,464.39 734.53,464.92 735.23,465.44 735.93,465.97 736.64,466.50 737.34,467.03 738.04,467.56 738.74,468.09 739.44,468.62 740.14,469.15 740.84,469.67 741.54,470.20 742.24,470.73 742.94,471.26 743.40,471.60 743.64,471.78 744.34,472.31 745.04,472.83 745.75,473.36 746.45,473.89 747.15,474.42 747.85,474.94 748.55,475.47 749.25,476.00 749.95,476.53 750.65,477.06 751.35,477.58 752.05,478.11 752.75,478.64 753.45,479.17 754.15,479.70 754.85,480.23 755.56,480.75 756.26,481.28 756.96,481.81 757.66,482.34 758.36,482.87 759.06,483.39 759.76,483.92 760.46,484.45 761.16,484.97 761.20,485.00 761.86,485.50 762.56,486.02 763.26,486.55 763.96,487.07 764.67,487.59 765.37,488.12 766.07,488.64 766.77,489.16 767.47,489.68 768.17,490.21 768.87,490.73 769.57,491.25 770.27,491.77 770.97,492.29 771.67,492.82 772.37,493.34 773.07,493.86 773.78,494.38 774.48,494.91 775.18,495.43 775.88,495.96 776.58,496.48 777.28,497.01 777.98,497.53 778.68,498.06 779.00,498.30 779.38,498.59 780.08,499.11 780.78,499.63 781.48,500.15 782.18,500.67 782.89,501.18 783.59,501.70 784.29,502.21 784.99,502.73 785.69,503.24 786.39,503.76 787.09,504.27 787.79,504.79 788.49,505.31 789.19,505.83 789.89,506.36 790.59,506.89 791.29,507.42 792.00,507.96 792.70,508.50 793.40,509.05 794.10,509.60 794.80,510.16 795.50,510.73 796.20,511.30 796.80,511.80 796.90,511.88 797.60,512.48 798.30,513.08 799.00,513.69 799.70,514.31 800.40,514.94 801.11,515.58 801.81,516.22 802.51,516.87 803.21,517.52 803.91,518.17 804.61,518.83 805.31,519.49 806.01,520.15 806.71,520.80 807.41,521.45 808.00,522.00 808.11,522.10 808.81,522.76 809.51,523.41 810.22,524.07 810.92,524.73 811.62,525.39 812.32,526.05 813.02,526.72 813.72,527.39 814.42,528.05 815.12,528.72 815.82,529.39 816.52,530.06 817.22,530.73 817.92,531.39 818.62,532.06 819.33,532.73 820.03,533.39 820.73,534.05 821.43,534.71 822.13,535.37 822.83,536.02 823.53,536.67 824.10,537.20 824.23,537.32 824.93,537.97 825.63,538.61 826.33,539.25 827.03,539.90 827.73,540.54 828.44,541.18 829.14,541.82 829.84,542.46 830.54,543.09 831.24,543.73 831.94,544.36 832.64,544.99 833.34,545.63 834.04,546.26 834.74,546.88 835.44,547.51 836.14,548.14 836.84,548.76 837.55,549.38 838.25,550.00 838.95,550.62 839.65,551.24 840.35,551.85 841.05,552.47 841.20,552.60 841.75,553.08 842.45,553.69 843.15,554.29 843.85,554.90 844.55,555.50 845.25,556.10 845.95,556.69 846.65,557.29 847.36,557.88 848.06,558.47 848.76,559.06 849.46,559.65 850.16,560.24 850.86,560.83 851.56,561.42 852.26,562.01 852.96,562.60 853.66,563.19 854.36,563.78 855.06,564.36 855.76,564.95 856.47,565.55 857.17,566.14 857.87,566.73 858.30,567.10 858.57,567.33 859.27,567.92 859.97,568.51 860.67,569.10 861.37,569.69 862.07,570.28 862.77,570.87 863.47,571.46 864.17,572.04 864.87,572.63 865.58,573.21 866.28,573.80 866.98,574.38 867.68,574.97 868.38,575.56 869.08,576.14 869.78,576.73 870.48,577.32 871.18,577.91 871.88,578.51 872.58,579.10 873.28,579.69 873.98,580.29 874.69,580.89 875.39,581.49 876.09,582.10 876.79,582.71 877.49,583.32 878.19,583.93 878.89,584.55 879.59,585.17 880.29,585.79 880.99,586.42 881.30,586.70 881.69,587.06 882.39,587.70 883.09,588.34 883.80,589.00 884.50,589.66 885.20,590.32 885.90,590.99 886.60,591.66 887.30,592.33 888.00,593.00" stroke="#008b00" stroke-width="2.2" stroke-dasharray="2.2 5.6 9.8 5.5"/></g><g stroke="#000" stroke-width="1.4"><line x1="211.0" y1="0.6" x2="211.0" y2="9.1"/><line x1="211.0" y1="294.8" x2="211.0" y2="286.3"/><line x1="211.0" y1="294.8" x2="211.0" y2="303.3"/><line x1="211.0" y1="589.0" x2="211.0" y2="580.5"/><line x1="315.4" y1="0.6" x2="315.4" y2="9.1"/><line x1="315.4" y1="294.8" x2="315.4" y2="286.3"/><line x1="315.4" y1="294.8" x2="315.4" y2="311.8"/><line x1="315.4" y1="589.0" x2="315.4" y2="572.0"/><line x1="419.9" y1="0.6" x2="419.9" y2="9.1"/><line x1="419.9" y1="294.8" x2="419.9" y2="286.3"/><line x1="419.9" y1="294.8" x2="419.9" y2="303.3"/><line x1="419.9" y1="589.0" x2="419.9" y2="580.5"/><line x1="524.4" y1="0.6" x2="524.4" y2="9.1"/><line x1="524.4" y1="294.8" x2="524.4" y2="286.3"/><line x1="524.4" y1="294.8" x2="524.4" y2="311.8"/><line x1="524.4" y1="589.0" x2="524.4" y2="572.0"/><line x1="628.8" y1="0.6" x2="628.8" y2="9.1"/><line x1="628.8" y1="294.8" x2="628.8" y2="286.3"/><line x1="628.8" y1="294.8" x2="628.8" y2="303.3"/><line x1="628.8" y1="589.0" x2="628.8" y2="580.5"/><line x1="733.3" y1="0.6" x2="733.3" y2="9.1"/><line x1="733.3" y1="294.8" x2="733.3" y2="286.3"/><line x1="733.3" y1="294.8" x2="733.3" y2="311.8"/><line x1="733.3" y1="589.0" x2="733.3" y2="572.0"/><line x1="837.7" y1="0.6" x2="837.7" y2="9.1"/><line x1="837.7" y1="294.8" x2="837.7" y2="286.3"/><line x1="837.7" y1="294.8" x2="837.7" y2="303.3"/><line x1="837.7" y1="589.0" x2="837.7" y2="580.5"/><line x1="106.5" y1="33.3" x2="123.5" y2="33.3"/><line x1="942.2" y1="33.3" x2="925.2" y2="33.3"/><line x1="106.5" y1="327.5" x2="123.5" y2="327.5"/><line x1="942.2" y1="327.5" x2="925.2" y2="327.5"/><line x1="106.5" y1="82.3" x2="115.0" y2="82.3"/><line x1="942.2" y1="82.3" x2="933.7" y2="82.3"/><line x1="106.5" y1="376.5" x2="115.0" y2="376.5"/><line x1="942.2" y1="376.5" x2="933.7" y2="376.5"/><line x1="106.5" y1="131.4" x2="123.5" y2="131.4"/><line x1="942.2" y1="131.4" x2="925.2" y2="131.4"/><line x1="106.5" y1="425.6" x2="123.5" y2="425.6"/><line x1="942.2" y1="425.6" x2="925.2" y2="425.6"/><line x1="106.5" y1="180.4" x2="115.0" y2="180.4"/><line x1="942.2" y1="180.4" x2="933.7" y2="180.4"/><line x1="106.5" y1="474.6" x2="115.0" y2="474.6"/><line x1="942.2" y1="474.6" x2="933.7" y2="474.6"/><line x1="106.5" y1="229.4" x2="123.5" y2="229.4"/><line x1="942.2" y1="229.4" x2="925.2" y2="229.4"/><line x1="106.5" y1="523.6" x2="123.5" y2="523.6"/><line x1="942.2" y1="523.6" x2="925.2" y2="523.6"/><line x1="106.5" y1="278.5" x2="115.0" y2="278.5"/><line x1="942.2" y1="278.5" x2="933.7" y2="278.5"/><line x1="106.5" y1="572.7" x2="115.0" y2="572.7"/><line x1="942.2" y1="572.7" x2="933.7" y2="572.7"/></g><rect x="106.5" y="0.6" width="835.7" height="588.4" fill="none" stroke="#000" stroke-width="1.6"/><line x1="106.5" y1="294.8" x2="942.2" y2="294.8" stroke="#000" stroke-width="1.6"/><g font-family="Liberation Serif" font-size="37" fill="#000"><text x="99.7" y="45.7" text-anchor="end">-6</text><text x="99.7" y="339.9" text-anchor="end">-6</text><text x="99.7" y="143.8" text-anchor="end">-9</text><text x="99.7" y="438.0" text-anchor="end">-9</text><text x="99.7" y="241.8" text-anchor="end">-12</text><text x="99.7" y="536.0" text-anchor="end">-12</text><text x="106.5" y="621.6" text-anchor="middle">0</text><text x="315.4" y="621.6" text-anchor="middle">2</text><text x="524.4" y="621.6" text-anchor="middle">4</text><text x="733.3" y="621.6" text-anchor="middle">6</text><text x="942.2" y="621.6" text-anchor="middle">8</text></g><g font-family="Liberation Serif" fill="#000"><text x="475.1" y="654.8" font-size="36" font-style="italic">E</text><text x="495.7" y="669.9" font-size="26.6" font-weight="bold">p</text><text x="518" y="654.8" font-size="36.5" stroke="#000" stroke-width="1.1">/</text><text x="537" y="654.8" font-size="36" font-style="italic">U</text><text x="562.6" y="669.2" font-size="25">p</text></g><g font-family="Liberation Serif" font-size="36" fill="#000" transform="translate(24.3,360.5) rotate(-90)"><text x="-0.3" y="0">log</text><text x="46" y="14.5" font-size="25.5">10</text><text x="70.9" y="0">[</text><text x="84" y="0" font-style="italic" font-size="35">w</text><text x="106.5" y="13.7" font-weight="bold" font-size="23.5">Rpi</text><text x="144.9" y="0">(</text><text x="155.9" y="0" font-style="italic">n</text><text x="172" y="0">)</text><text x="194.8" y="0">(au)</text><text x="251.8" y="0">]</text></g><g font-family="Liberation Serif" fill="#000"><text x="676" y="35.6" font-size="37">Ar</text><text x="713.2" y="49.5" font-size="25.5">2</text><text font-size="41.5" x="136.5" y="273.5">a</text><text font-size="37.5" x="685.3" y="329.3">O</text><text font-size="25.5" x="711" y="343.2">2</text><text font-size="41.5" x="136" y="568">b</text><text transform="translate(649.08,274.16) scale(1.141,0.979)" font-size="36">θ</text><text x="668.50" y="287.80" font-size="25">e</text><rect x="689.30" y="260.65" width="18.40" height="2.3"/><rect x="689.30" y="267.65" width="18.40" height="2.3"/><text x="716.55" y="274.20" font-size="36">1</text><text x="734.90" y="274.20" font-size="36">8</text><text x="752.60" y="274.20" font-size="36">0</text><text x="770.27" y="274.20" font-size="35">°</text><text transform="translate(808.15,272.61) scale(1.190,1.103)" font-size="36">ε</text><rect x="834.10" y="258.25" width="18.80" height="2.3"/><rect x="834.10" y="265.05" width="18.80" height="2.3"/><text x="862.50" y="272.60" font-size="36">0</text><text x="879.50" y="272.60" font-size="36">.</text><text x="888.23" y="272.60" font-size="36">4</text></g><line x1="746" y1="328.7" x2="797" y2="328.7" fill="none" stroke="#000" stroke-width="2.2"/><g font-family="Liberation Serif" fill="#000"><text transform="translate(812.60,334.78) scale(1.159,0.931)" font-size="35">θ</text><text x="830.94" y="347.30" font-size="24">L</text><rect x="854.10" y="321.75" width="16.90" height="2.3"/><rect x="854.10" y="328.25" width="16.90" height="2.3"/><text x="879.35" y="334.80" font-size="35">0</text><text x="896.02" y="334.80" font-size="35">°</text></g><line x1="746" y1="374" x2="797" y2="374" fill="none" stroke="#ff0000" stroke-width="2.2" stroke-dasharray="10.1 5.05"/><g font-family="Liberation Serif" fill="#000"><text transform="translate(812.60,378.58) scale(1.159,0.931)" font-size="35">θ</text><text x="830.94" y="391.10" font-size="24">L</text><rect x="854.10" y="365.55" width="16.90" height="2.3"/><rect x="854.10" y="372.05" width="16.90" height="2.3"/><text x="879.00" y="378.60" font-size="35">3</text><text x="895.65" y="378.60" font-size="35">0</text><text x="912.32" y="378.60" font-size="35">°</text></g><line x1="746" y1="418.2" x2="797" y2="418.2" fill="none" stroke="#0000ff" stroke-width="2.2" stroke-dasharray="2.2 5.43"/><g font-family="Liberation Serif" fill="#000"><text transform="translate(812.60,422.98) scale(1.159,0.931)" font-size="35">θ</text><text x="830.94" y="435.50" font-size="24">L</text><rect x="854.10" y="409.95" width="16.90" height="2.3"/><rect x="854.10" y="416.45" width="16.90" height="2.3"/><text x="879.08" y="423.00" font-size="35">4</text><text x="895.32" y="423.00" font-size="35">5</text><text x="912.32" y="423.00" font-size="35">°</text></g><line x1="746" y1="462.7" x2="797" y2="462.7" fill="none" stroke="#008b00" stroke-width="2.2" stroke-dasharray="2.2 5.6 9.8 5.5"/><g font-family="Liberation Serif" fill="#000"><text transform="translate(812.60,467.28) scale(1.159,0.931)" font-size="35">θ</text><text x="830.94" y="479.80" font-size="24">L</text><rect x="854.10" y="454.25" width="16.90" height="2.3"/><rect x="854.10" y="460.75" width="16.90" height="2.3"/><text x="878.92" y="467.30" font-size="35">6</text><text x="895.65" y="467.30" font-size="35">0</text><text x="912.32" y="467.30" font-size="35">°</text></g>
</svg></body></html>
